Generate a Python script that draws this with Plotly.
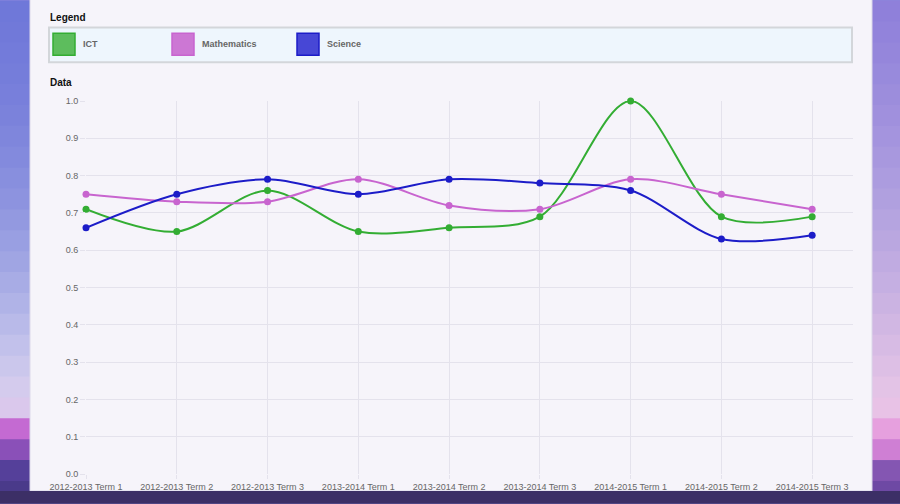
"""Term results line chart (ICT / Mathematics / Science)."""

import plotly.graph_objects as go

terms = [
    "2012-2013 Term 1", "2012-2013 Term 2", "2012-2013 Term 3",
    "2013-2014 Term 1", "2013-2014 Term 2", "2013-2014 Term 3",
    "2014-2015 Term 1", "2014-2015 Term 2", "2014-2015 Term 3",
]
subjects = ["ICT", "Mathematics", "Science"]
ict = [0.71, 0.65, 0.76, 0.65, 0.66, 0.69, 1.0, 0.69, 0.69]
mathematics = [0.75, 0.73, 0.73, 0.79, 0.72, 0.71, 0.79, 0.75, 0.71]
science = [0.66, 0.75, 0.79, 0.75, 0.79, 0.78, 0.76, 0.63, 0.64]
y_ticks = [0.0, 0.1, 0.2, 0.3, 0.4, 0.5, 0.6, 0.7, 0.8, 0.9, 1.0]

line_colors = ["#33ad33", "#c864cf", "#1c1cc8"]
fill_colors = ["#5dbd5d", "#cc77d4", "#4747d6"]
FONT = "Liberation Sans, Arial, Helvetica, sans-serif"

# wallpaper edge colours, top to bottom (approximate, 21px bands)
left_cols = ["#6f78d9", "#7179d9", "#737bda", "#757dda", "#787fdb", "#7b82db",
             "#7f86dc", "#838add", "#888fde", "#8d93df", "#9399e0", "#999fe2",
             "#a0a5e3", "#a8ace5", "#b0b3e7", "#b9bae9", "#c2c1eb", "#cbc7ec",
             "#d4cbed", "#dac8ec", "#c46ad2", "#8a50b8", "#55409a", "#4a3a8a"]
right_cols = ["#8f80da", "#9283db", "#9586db", "#988adc", "#9c8ddc", "#a090dd",
              "#a494de", "#a898de", "#ac9cdf", "#b0a0df", "#b5a4e0", "#baa7e0",
              "#c0abe1", "#c5afe2", "#cbb3e2", "#d1b7e3", "#d7bbe4", "#ddbfe5",
              "#e3c3e6", "#e8c2e6", "#e6a0de", "#cf7fd4", "#8456b2", "#6e49a4"]

W, H = 900, 504


def px(x):
    return (x - 86) / 767


def py(y):
    return (476 - y) / 375


fig = go.Figure()
for name, vals, col in zip(subjects, [ict, mathematics, science], line_colors):
    fig.add_trace(go.Scatter(
        x=terms, y=vals, name=name, mode="lines+markers",
        line=dict(color=col, width=2, shape="spline", smoothing=0.9),
        marker=dict(color=col, size=7),
        cliponaxis=False, showlegend=False,
    ))

shapes = []
n = len(left_cols)
for i in range(n):
    top = i * H / n
    bot = (i + 1) * H / n + 1
    shapes.append(dict(type="rect", xref="paper", yref="paper",
                       x0=px(-2), x1=px(31), y0=py(bot), y1=py(top),
                       fillcolor=left_cols[i], line_width=0, layer="below"))
    shapes.append(dict(type="rect", xref="paper", yref="paper",
                       x0=px(871), x1=px(902), y0=py(bot), y1=py(top),
                       fillcolor=right_cols[i], line_width=0, layer="below"))

# white panel
shapes.append(dict(type="rect", xref="paper", yref="paper",
                   x0=px(30), x1=px(872), y0=py(493), y1=py(-5),
                   fillcolor="#f6f4fa", line=dict(color="#dcd8ea", width=1), layer="below"))
# bottom dark strip
shapes.append(dict(type="rect", xref="paper", yref="paper",
                   x0=px(-2), x1=px(902), y0=py(506), y1=py(493),
                   fillcolor="#3c2f66", line_width=0, layer="below"))
# legend box
shapes.append(dict(type="rect", xref="paper", yref="paper",
                   x0=px(49), x1=px(852), y0=py(62), y1=py(27),
                   fillcolor="#eef6fd", line=dict(color="#d3d6da", width=2), layer="below"))

annotations = [
    dict(text="<b>Legend</b>", x=px(48), y=py(17), xref="paper", yref="paper",
         xanchor="left", yanchor="middle", showarrow=False,
         font=dict(family=FONT, size=10, color="#111")),
    dict(text="<b>Data</b>", x=px(48), y=py(82), xref="paper", yref="paper",
         xanchor="left", yanchor="middle", showarrow=False,
         font=dict(family=FONT, size=10, color="#111")),
]
sq_left = [53, 172, 297]
for name, fc, lc, x0 in zip(subjects, fill_colors, line_colors, sq_left):
    shapes.append(dict(type="rect", xref="paper", yref="paper",
                       x0=px(x0), x1=px(x0 + 22), y0=py(55), y1=py(33),
                       fillcolor=fc, line=dict(color=lc, width=1.5), layer="below"))
    annotations.append(dict(text="<b>" + name + "</b>", x=px(x0 + 28), y=py(44),
                            xref="paper", yref="paper", xanchor="left", yanchor="middle",
                            showarrow=False, font=dict(family=FONT, size=9, color="#666")))

fig.update_layout(
    width=W, height=H,
    margin=dict(l=86, r=47, t=101, b=28),
    paper_bgcolor="#8c86dc",
    plot_bgcolor="rgba(0,0,0,0)",
    font=dict(family=FONT, size=9, color="#666"),
    shapes=shapes,
    annotations=annotations,
    showlegend=False,
)
fig.update_xaxes(
    type="category", range=[0, 8.45],
    showgrid=True, gridcolor="#e4e2ec", gridwidth=1,
    zeroline=False, showline=False,
    ticks="outside", ticklen=4, tickcolor="#e4e2ec",
    tickfont=dict(family=FONT, size=9, color="#666"),
)
fig.update_yaxes(
    range=[0, 1.0], tickvals=y_ticks, tickformat=".1f",
    showgrid=True, gridcolor="#e4e2ec", gridwidth=1,
    zeroline=False, showline=False,
    ticks="outside", ticklen=5, tickcolor="#e4e2ec",
    tickfont=dict(family=FONT, size=9, color="#666"),
)

fig.write_html("out.html", config={"displayModeBar": False},
               post_script="document.body.style.margin='0';")
